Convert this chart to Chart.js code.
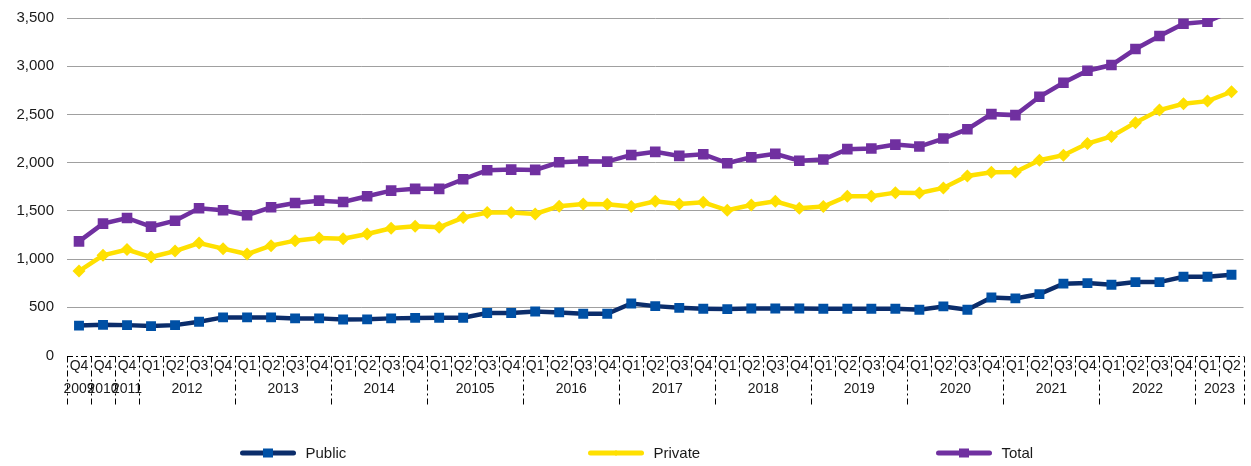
<!DOCTYPE html>
<html>
<head>
<meta charset="utf-8">
<script src="https://cdn.jsdelivr.net/npm/chart.js@4/dist/chart.umd.min.js"></script>
<style>
html,body{margin:0;padding:0;background:#fff;}
#wrap{width:1251px;height:466px;position:relative;}
</style>
</head>
<body>
<div id="wrap"><canvas id="c" width="1251" height="466"></canvas></div>
<script>
const quarterLabels = ['Q4','Q4','Q4',
  'Q1','Q2','Q3','Q4','Q1','Q2','Q3','Q4','Q1','Q2','Q3','Q4','Q1','Q2','Q3','Q4',
  'Q1','Q2','Q3','Q4','Q1','Q2','Q3','Q4','Q1','Q2','Q3','Q4','Q1','Q2','Q3','Q4',
  'Q1','Q2','Q3','Q4','Q1','Q2','Q3','Q4','Q1','Q2','Q3','Q4','Q1','Q2'];
const yearLabels = ['2009','2010','2011','2012','2013','2014','20105','2016','2017','2018','2019','2020','2021','2022','2023'];
const yearSpans  = [1,1,1,4,4,4,4,4,4,4,4,4,4,4,2];

const publicValues = [310,318,315,305,315,350,395,395,395,385,385,374,375,385,390,
  392,392,440,440,457,447,433,433,540,512,494,485,481,488,488,488,
  485,485,485,485,474,509,474,602,592,637,745,751,734,761,761,817,817,838];
const privateValues = [876,1039,1098,1021,1083,1166,1108,1052,1139,1191,1218,1212,1260,1319,1340,
  1329,1430,1482,1482,1468,1548,1571,1568,1544,1599,1571,1589,1506,1561,1599,1527,
  1544,1651,1651,1689,1686,1738,1862,1901,1904,2025,2077,2198,2271,2415,2545,2610,2638,2735];
const totalValues = [1184,1368,1426,1336,1398,1527,1506,1454,1537,1582,1606,1592,1651,1710,1728,
  1728,1828,1921,1928,1925,2004,2015,2011,2080,2112,2070,2087,1994,2056,2091,2020,
  2032,2140,2146,2187,2167,2250,2347,2503,2493,2683,2828,2953,3012,3178,3313,3441,3462,3573];
const yTicks = [0,500,1000,1500,2000,2500,3000,3500];

const FONT = "'Liberation Sans', Arial, sans-serif";
const TEXT = '#1a1a1a';

const axisDecor = {
  id: 'axisDecor',
  afterDraw(chart) {
    const ctx = chart.ctx, xs = chart.scales.x, ca = chart.chartArea;
    const n = quarterLabels.length;
    const half = (xs.getPixelForValue(1) - xs.getPixelForValue(0)) / 2;
    const top = Math.round(ca.bottom) + 0.5;
    const yearBounds = new Set([0]);
    let acc = 0;
    yearSpans.forEach(s => { acc += s; yearBounds.add(acc); });
    ctx.save();
    ctx.strokeStyle = '#000';
    ctx.lineWidth = 1;
    ctx.setLineDash([6,3,2,3]);
    ctx.beginPath();
    ctx.moveTo(xs.getPixelForValue(0) - half, top);
    ctx.lineTo(xs.getPixelForValue(n - 1) + half, top);
    ctx.stroke();
    for (let i = 0; i <= n; i++) {
      const x = Math.round(i === n ? xs.getPixelForValue(n - 1) + half : xs.getPixelForValue(i) - half) + 0.5;
      ctx.beginPath();
      ctx.moveTo(x, top);
      ctx.lineTo(x, yearBounds.has(i) ? top + 48 : top + 21);
      ctx.stroke();
    }
    ctx.setLineDash([]);
    ctx.fillStyle = TEXT;
    ctx.font = '14px ' + FONT;
    ctx.textAlign = 'center';
    ctx.textBaseline = 'middle';
    let start = 0;
    yearLabels.forEach((lab, k) => {
      const end = start + yearSpans[k] - 1;
      const cx = (xs.getPixelForValue(start) + xs.getPixelForValue(end)) / 2;
      ctx.fillText(lab, cx, top + 33);
      start = end + 1;
    });
    ctx.restore();
  }
};

const customLegend = {
  id: 'customLegend',
  afterDraw(chart) {
    const ctx = chart.ctx;
    const cy = 453;
    const center = chart.width / 2;
    ctx.save();
    chart.data.datasets.forEach((ds, i) => {
      const sx = center - 385 + i * 348;
      ctx.strokeStyle = ds.borderColor;
      ctx.lineWidth = 5;
      ctx.lineCap = 'round';
      ctx.beginPath();
      ctx.moveTo(sx + 2, cy);
      ctx.lineTo(sx + 53, cy);
      ctx.stroke();
      ctx.fillStyle = ds.pointBackgroundColor;
      const mx = sx + 27.5;
      if (ds.pointStyle === 'rectRot') {
        ctx.beginPath();
        ctx.moveTo(mx, cy - 3); ctx.lineTo(mx + 3, cy); ctx.lineTo(mx, cy + 3); ctx.lineTo(mx - 3, cy);
        ctx.closePath(); ctx.fill();
      } else {
        ctx.fillRect(mx - 5, cy - 4.5, 10, 9);
      }
      ctx.fillStyle = TEXT;
      ctx.font = '15px ' + FONT;
      ctx.textAlign = 'left';
      ctx.textBaseline = 'middle';
      ctx.fillText(ds.label, sx + 65, cy + 1);
    });
    ctx.restore();
  }
};

new Chart(document.getElementById('c'), {
  type: 'line',
  data: {
    labels: quarterLabels,
    datasets: [
      { label: 'Public', data: publicValues, borderColor: '#0b2d6b', backgroundColor: '#0050a5',
        pointBackgroundColor: '#0050a5', pointBorderColor: '#0050a5', pointStyle: 'rect',
        pointRadius: 7, pointBorderWidth: 0, borderWidth: 4.5, tension: 0 },
      { label: 'Private', data: privateValues, borderColor: '#ffe000', backgroundColor: '#ffe000',
        pointBackgroundColor: '#ffe000', pointBorderColor: '#ffe000', pointStyle: 'rectRot',
        pointRadius: 6.5, pointBorderWidth: 0, borderWidth: 4.5, tension: 0 },
      { label: 'Total', data: totalValues, borderColor: '#7030a0', backgroundColor: '#7030a0',
        pointBackgroundColor: '#7030a0', pointBorderColor: '#7030a0', pointStyle: 'rect',
        pointRadius: 7.5, pointBorderWidth: 0, borderWidth: 4.5, tension: 0, clip: 0 }
    ]
  },
  options: {
    responsive: false,
    animation: false,
    layout: { padding: { top: 18, right: 5, bottom: 0, left: 0 } },
    plugins: { legend: { display: false }, tooltip: { enabled: false } },
    scales: {
      x: {
        type: 'category',
        offset: true,
        grid: { display: false, drawTicks: false },
        border: { display: false },
        ticks: { autoSkip: false, maxRotation: 0, minRotation: 0, color: TEXT,
          font: { family: FONT, size: 14 }, padding: 2 },
        afterFit(s) { s.height = 110.5; }
      },
      y: {
        min: 0, max: 3500,
        afterBuildTicks(s) { s.ticks = yTicks.map(v => ({ value: v })); },
        grid: { drawTicks: false, color: c => c.tick && c.tick.value === 0 ? 'rgba(0,0,0,0)' : '#a0a0a0', lineWidth: 1 },
        border: { display: false },
        ticks: { color: TEXT, font: { family: FONT, size: 15 }, padding: 13,
          callback: v => Number(v).toLocaleString('en-US') },
        afterFit(s) { s.width = 67; s.paddingTop = 0; s.paddingBottom = 0; }
      }
    }
  },
  plugins: [axisDecor, customLegend]
});
</script>
</body>
</html>
